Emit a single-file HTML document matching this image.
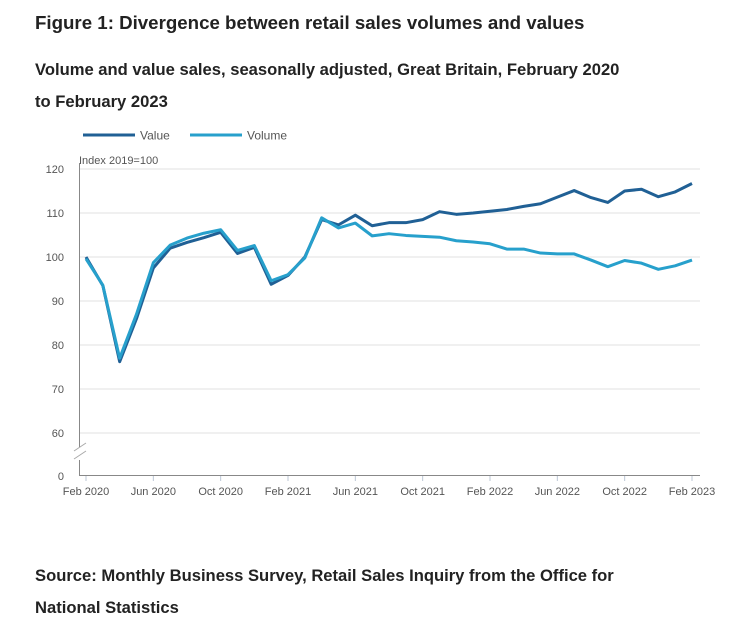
<!DOCTYPE html>
<html><head><meta charset="utf-8"><style>
body{margin:0;background:#fff;width:740px;height:627px;overflow:hidden;font-family:"Liberation Sans",sans-serif;color:#222}
.t{position:absolute;left:35px;font-weight:bold;margin:0}
</style></head><body>
<h1 class="t" style="top:12px;font-size:18.7px">Figure 1: Divergence between retail sales volumes and values</h1>
<h2 class="t" style="top:54px;font-size:16.6px;line-height:32px;width:600px">Volume and value sales, seasonally adjusted, Great Britain, February 2020 to February 2023</h2>
<svg id="c" width="740" height="627" style="position:absolute;left:0;top:0" font-family="Liberation Sans, sans-serif"></svg>
<p class="t" style="top:560px;font-size:16.6px;line-height:32px;width:600px">Source: Monthly Business Survey, Retail Sales Inquiry from the Office for National Statistics</p>
<script>
const valueSeries=[100,93.5,76.2,86,97.5,102,103.3,104.4,105.6,100.8,102.2,93.8,95.8,100,108.5,107.3,109.5,107.1,107.8,107.8,108.5,110.3,109.7,110,110.4,110.8,111.5,112.1,113.6,115.1,113.5,112.4,115,115.4,113.7,114.8,116.7];
const volumeSeries=[99.6,93.6,77,87,98.7,102.7,104.3,105.4,106.2,101.5,102.6,94.6,96,99.8,108.9,106.6,107.7,104.8,105.3,104.9,104.7,104.5,103.7,103.4,103,101.8,101.8,100.9,100.7,100.7,99.3,97.8,99.2,98.6,97.2,98,99.3];
const yTicks=[60,70,80,90,100,110,120];
const xTickLabels=["Feb 2020","Jun 2020","Oct 2020","Feb 2021","Jun 2021","Oct 2021","Feb 2022","Jun 2022","Oct 2022","Feb 2023"];
const xTickIndex=[0,4,8,12,16,20,24,28,32,36];
const svg=document.getElementById('c');const NS='http://www.w3.org/2000/svg';
const x=i=>86+i*(692-86)/36;
const y=v=>257-(v-100)*4.4;
function el(t,a,txt){const e=document.createElementNS(NS,t);for(const k in a)e.setAttribute(k,a[k]);if(txt!=null)e.textContent=txt;svg.appendChild(e);return e;}
yTicks.forEach(v=>{
const g=el('line',{x1:80,x2:700,y1:y(v),y2:y(v),stroke:'#e0e0e0','stroke-width':1});


const t=el('text',{x:64,y:y(v)+4,'text-anchor':'end','font-size':11,fill:'#555'},v);


});
const z=el('text',{x:64,y:480,'text-anchor':'end','font-size':11,fill:'#555'},'0');


const ax=el('path',{d:'M79.5 163V447M79.5 460V475.5H700',stroke:'#888',fill:'none','stroke-width':1});


const br=el('path',{d:'M74 451L86 443M74 459L86 451',stroke:'#aaa','stroke-width':1,fill:'none'});


xTickIndex.forEach((ix,k)=>{
const tl=el('line',{x1:x(ix),x2:x(ix),y1:476,y2:481,stroke:'#bcc7d6'});


const t=el('text',{x:x(ix),y:495,'text-anchor':'middle','font-size':11,fill:'#555'},xTickLabels[k]);


});
const yt=el('text',{x:79,y:164,'font-size':11,fill:'#555'},'Index 2019=100');


function line(d,c,n){const p=el('polyline',{points:d.map((v,i)=>x(i)+','+y(v)).join(' '),fill:'none',stroke:c,'stroke-width':3,'stroke-linejoin':'round'});

}
line(valueSeries,'#206095','value-line');
line(volumeSeries,'#27a0cc','volume-line');
[['Value','#206095',83],['Volume','#27a0cc',190]].forEach(([n,c,lx])=>{
const l=el('line',{x1:lx,x2:lx+52,y1:135,y2:135,stroke:c,'stroke-width':3});


const t=el('text',{x:lx+57,y:139.5,'font-size':12,fill:'#555'},n);


});
</script>
</body></html>
